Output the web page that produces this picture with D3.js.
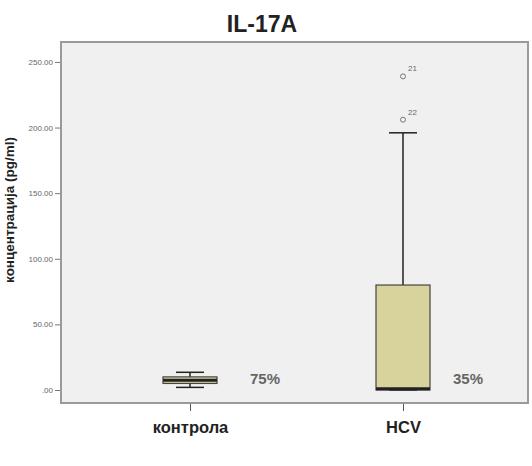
<!DOCTYPE html>
<html>
<head>
<meta charset="utf-8">
<script src="https://cdn.jsdelivr.net/npm/d3@7"></script>
<style>
  body { margin: 0; background: #fff; }
  text { font-family: Arial, "Liberation Sans", sans-serif; }
</style>
</head>
<body>
<svg id="chart" width="532" height="466"></svg>
<script>
const groups = ['контрола', 'HCV'];
const whiskerLow = [2, 0];
const q1 = [5, 0];
const median = [7.5, 1];
const q3 = [10, 80];
const whiskerHigh = [13.5, 196];
const outliers = [[], [{ v: 239, id: '21' }, { v: 206, id: '22' }]];
const percentLabels = ['75%', '35%'];
const yTicks = [0, 50, 100, 150, 200, 250];

const svg = d3.select('#chart');
const plotLeft = 61, plotRight = 528, plotTop = 42, plotBottom = 403;
const pctOffset = [60, 50];

const y = d3.scaleLinear().domain([-9.9, 265.2]).range([plotBottom, plotTop]);
const x = d3.scalePoint().domain(groups).range([190, 403]);

// plot background
svg.append('rect')
  .attr('x', plotLeft).attr('y', plotTop)
  .attr('width', plotRight - plotLeft).attr('height', plotBottom - plotTop)
  .attr('fill', '#f0f0f0')
  .attr('stroke', '#9a9a9a')
  .attr('stroke-width', 2);

// title
svg.append('text')
  .attr('x', 262).attr('y', 32)
  .attr('text-anchor', 'middle')
  .attr('font-size', 23).attr('font-weight', 'bold')
  .attr('fill', '#222')
  .text('IL-17A');

// y axis
const fmt = v => v === 0 ? '.00' : d3.format('.2f')(v);
const yAxis = svg.append('g')
  .attr('transform', `translate(${plotLeft - 1},0)`)
  .call(d3.axisLeft(y).tickValues(yTicks).tickFormat(fmt).tickSize(5).tickPadding(2));
yAxis.select('.domain').remove();
yAxis.selectAll('line').attr('stroke', '#777');
yAxis.selectAll('text').attr('font-size', 8).attr('fill', '#666')
  .attr('font-family', 'Arial, "Liberation Sans", sans-serif');

svg.append('text')
  .attr('transform', 'translate(14,210) rotate(-90)')
  .attr('text-anchor', 'middle')
  .attr('font-size', 13.5).attr('font-weight', 'bold')
  .attr('fill', '#222')
  .text('концентрација (pg/ml)');

// x axis
const xAxis = svg.append('g')
  .attr('transform', `translate(0,${plotBottom + 1})`)
  .call(d3.axisBottom(x).tickSize(7).tickPadding(10));
xAxis.select('.domain').remove();
xAxis.selectAll('line').attr('stroke', '#555');
xAxis.selectAll('text').attr('font-size', 16.5).attr('font-weight', 'bold')
  .attr('fill', '#222')
  .attr('font-family', 'Arial, "Liberation Sans", sans-serif');

// boxes
const boxW = 54, capW = 28;
groups.forEach((g, i) => {
  const cx = x(g);
  const gEl = svg.append('g');
  // whisker stems
  gEl.append('line')
    .attr('x1', cx).attr('x2', cx)
    .attr('y1', y(q3[i])).attr('y2', y(whiskerHigh[i]))
    .attr('stroke', '#222').attr('stroke-width', 1.5);
  gEl.append('line')
    .attr('x1', cx).attr('x2', cx)
    .attr('y1', y(q1[i])).attr('y2', y(whiskerLow[i]))
    .attr('stroke', '#222').attr('stroke-width', 1.5);
  // caps
  [whiskerHigh[i], whiskerLow[i]].forEach(v => {
    gEl.append('line')
      .attr('x1', cx - capW / 2).attr('x2', cx + capW / 2)
      .attr('y1', y(v)).attr('y2', y(v))
      .attr('stroke', '#222').attr('stroke-width', 1.5);
  });
  // box
  gEl.append('rect')
    .attr('x', cx - boxW / 2).attr('y', y(q3[i]))
    .attr('width', boxW).attr('height', Math.max(1, y(q1[i]) - y(q3[i])))
    .attr('fill', '#d8d29c')
    .attr('stroke', '#444').attr('stroke-width', 1.2);
  // median
  gEl.append('line')
    .attr('x1', cx - boxW / 2).attr('x2', cx + boxW / 2)
    .attr('y1', y(median[i])).attr('y2', y(median[i]))
    .attr('stroke', '#222').attr('stroke-width', 3);
  // outliers
  outliers[i].forEach(o => {
    gEl.append('circle')
      .attr('cx', cx).attr('cy', y(o.v)).attr('r', 2.5)
      .attr('fill', 'none').attr('stroke', '#777').attr('stroke-width', 1);
    gEl.append('text')
      .attr('x', cx + 5).attr('y', y(o.v) - 5)
      .attr('font-size', 8).attr('fill', '#666')
      .text(o.id);
  });
  // percent label
  svg.append('text')
    .attr('x', cx + pctOffset[i]).attr('y', y(0) - 6)
    .attr('font-size', 15).attr('font-weight', 'bold')
    .attr('fill', '#666')
    .text(percentLabels[i]);
});
</script>
</body>
</html>
